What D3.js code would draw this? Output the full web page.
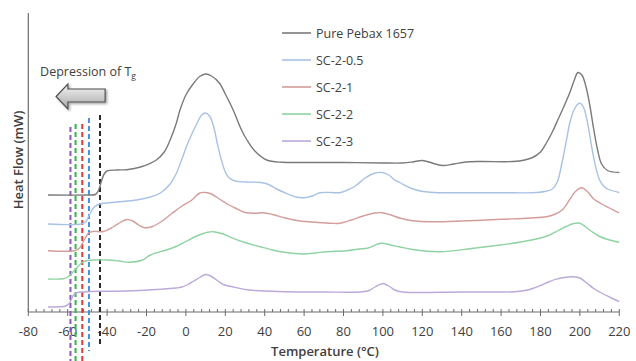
<!DOCTYPE html>
<html>
<head>
<meta charset="utf-8">
<script src="https://cdn.jsdelivr.net/npm/d3@7/dist/d3.min.js"></script>
<style>
  body { margin: 0; background: #fff; }
  svg { display: block; font-family: "Open Sans", sans-serif; }
</style>
</head>
<body>
<svg id="chart" width="636" height="361"></svg>
<script>
// ---- data (temperature °C, heat flow in arbitrary stacked units) ----
const seriesNames = ["Pure Pebax 1657", "SC-2-0.5", "SC-2-1", "SC-2-2", "SC-2-3"]
const lineColors = ["#7a7a7a", "#a9c2e4", "#d49d9b", "#8fd3a3", "#bba9d9"]
const dashColors = ["#2b2b2b", "#4f8fd8", "#e03a3a", "#33b452", "#8c55c4"]

const pebax = [[-70,117],[-50,117],[-46,117.5],[-44.5,121],[-43,130],[-41.5,138],[-40,141],[-35,142],[-30,142.3],
  [-23,145],[-15,152],[-11,160],[-8,172],[-5,188],[-3,202],[0,217],[4,229],[7,235.5],[10,238],[13,236],[17,229],
  [20,218],[24,202],[28,183],[31,172],[35,161],[41,152],[49,149.7],[60,149.5],[80,149.5],[100,149],[110,149],
  [115,150],[120,151.5],[125,149],[130,146.5],[136,148],[142,150],[150,150.5],[166,150.5],[172,152],[176,154.5],
  [180,160],[183,169],[186,180],[189,193],[192,206],[195,220],[197,231],[199,239.5],[201,237],[203,226],[205,207],
  [207,183],[209,162],[211,148],[214,141.5],[220,139.5]]
const sc05 = [[-70,88],[-53,88],[-51,90],[-49,97],[-47,104],[-45,107],[-42,108.7],[-35,110],[-25,112],[-18,115],
  [-13,119],[-8,128],[-5,138],[-2,153],[0,164],[3,178],[5.5,188],[8,197],[10,199],[12,196],[14,186],[16,168],
  [18,152],[20,140],[22,134],[25,131],[30,130],[38,129.5],[42,127.5],[46,123],[51,118.7],[56,115],[60,114.3],
  [64,116],[68,119.3],[74,119.5],[78,119.3],[82,122],[86,126],[91,134],[96,139],[99.5,139.5],[103,137],[106,132],
  [109,129],[114,124],[119,121],[126,119.5],[134,119.3],[160,119.3],[176,119.3],[182,120.5],[186,123],[188.5,130],
  [191,150],[193,170],[195,190],[197,202],[199,208],[200.3,208.7],[202,204],[204,188],[206,165],[208,145],
  [210,132],[212,126],[214,123],[220,119.5]]
const sc1 = [[-70,61.3],[-56,61.5],[-54,64],[-52.5,69],[-51,74],[-49.5,79],[-47,80.5],[-42,80.5],[-37,85],[-33,90],
  [-30,92.5],[-27,91],[-24,87],[-21,84.3],[-17,85.5],[-12,91],[-7,98.7],[-2,106],[3,112],[7,119],[10,119.5],
  [13,118],[17,113],[21,108],[25,104],[30,99.5],[35,98.7],[39,99.3],[44,97.5],[51,93.7],[58,91],[66,89.7],
  [74,88.7],[78,88.7],[84,92],[90,96],[96,99],[99.5,99.3],[104,97],[109,93.7],[115,91.3],[125,90.3],[140,91],
  [160,92.7],[175,94],[183,95.3],[187,97.5],[191,102],[195,113],[198,121],[201,124.3],[204,120],[207,113],
  [211,108],[215,104],[220,99]]
const sc2 = [[-70,33],[-62,33.3],[-60,35],[-58,38.5],[-55.5,44],[-53,49],[-50,51.5],[-46,52],[-40,52],[-34,51],
  [-28.5,49.7],[-22,52],[-18,57],[-10,62],[-5,65.5],[0,70.5],[5,75.5],[11,79.7],[14,80.3],[19,78],[24,73.7],
  [30,69.5],[37.6,65.3],[44,62],[50,59.7],[59.6,58],[66,59],[71.5,60.3],[81.6,61.3],[88,63],[92,63.7],[99,68.7],
  [104,67],[108.6,65],[115,62.5],[129,60.3],[145,63.5],[159.5,67],[170,70],[178,73],[184,76.5],[189,81.5],[193,85.5],
  [197,88.5],[200,88.7],[203,85],[206,80.5],[210,75.5],[215,72],[220,69.7]]
const sc3 = [[-70,5],[-61,6],[-59.5,8],[-58,13],[-57,17],[-55,19.5],[-52,20],[-44,20.7],[-30,21],[-15,22.5],
  [-5,24],[-2,25],[1,27.5],[4,31],[7,34.5],[10,37.5],[12.5,36],[15.6,32],[19,27.5],[23,25.5],[32,22],[50,20.3],
  [70,20],[88,20],[93,21.5],[96,25],[100,28.5],[103,26],[106,22],[110,20],[140,20],[167,20.3],[172,21.5],
  [176,23.5],[180,26.5],[184,30],[188,32.8],[192,34.5],[196.7,35.3],[200,34],[203.5,29],[207,23.5],[210,20],
  [215,15],[220,10.3]]
const allSeries = [pebax, sc05, sc1, sc2, sc3]

// Tg marker positions (°C) and the vertical span of each dashed line
const tgValues = [-43.6, -49.2, -52.6, -56, -58.6]
const tgTop = [197, 194, 188, 188, 185]
const tgBottom = [-35, -39, -52, -52, -52]

const xTicks = d3.range(-80, 221, 20)

// ---- layout ----
const svg = d3.select("#chart")
const x = d3.scaleLinear().domain([-80, 220]).range([28.3, 619.3])
const y = d3.scaleLinear().domain([0, 300]).range([312, 12])
const axisColor = "#6b6b6b"
const textColor = "#404040"

// y axis line (no ticks)
svg.append("line")
  .attr("x1", x(-80)).attr("x2", x(-80))
  .attr("y1", y(299)).attr("y2", y(0))
  .attr("stroke", axisColor).attr("stroke-width", 1.2)

// x axis: major ticks cross the line, minor ticks point up
const xAxisG = svg.append("g").attr("transform", `translate(0,${y(0)})`)
xAxisG.append("line")
  .attr("x1", x(-80)).attr("x2", x(220))
  .attr("stroke", axisColor).attr("stroke-width", 1.2)
xAxisG.selectAll("line.minor")
  .data(d3.range(-80, 221, 4).filter(d => (d + 80) % 20 !== 0))
  .join("line").attr("class", "minor")
  .attr("x1", d => x(d)).attr("x2", d => x(d))
  .attr("y1", 0).attr("y2", -3)
  .attr("stroke", axisColor)
xAxisG.selectAll("line.major")
  .data(xTicks)
  .join("line").attr("class", "major")
  .attr("x1", d => x(d)).attr("x2", d => x(d))
  .attr("y1", -3).attr("y2", 4)
  .attr("stroke", axisColor)
xAxisG.selectAll("text")
  .data(xTicks)
  .join("text")
  .attr("x", d => x(d))
  .attr("y", 24)
  .attr("text-anchor", "middle")
  .attr("font-size", 13)
  .attr("fill", textColor)
  .text(d => d)

// axis titles
svg.append("text")
  .attr("x", 325).attr("y", 356)
  .attr("text-anchor", "middle")
  .attr("font-size", 13).attr("font-weight", 600)
  .attr("fill", textColor)
  .text("Temperature (°C)")
svg.append("text")
  .attr("transform", `translate(23,${y(152)}) rotate(-90)`)
  .attr("text-anchor", "middle")
  .attr("font-size", 13).attr("font-weight", 600)
  .attr("fill", textColor)
  .text("Heat Flow (mW)")

// dashed Tg lines
svg.selectAll("line.tg")
  .data(tgValues)
  .join("line").attr("class", "tg")
  .attr("x1", d => x(d)).attr("x2", d => x(d))
  .attr("y1", (d, i) => y(tgTop[i])).attr("y2", (d, i) => y(tgBottom[i]))
  .attr("stroke", (d, i) => dashColors[i])
  .attr("stroke-width", 2)
  .attr("stroke-dasharray", "5,3")

// curves
const line = d3.line()
  .x(d => x(d[0]))
  .y(d => y(d[1]))
  .curve(d3.curveCatmullRom.alpha(0.5))

svg.selectAll("path.series")
  .data(allSeries)
  .join("path").attr("class", "series")
  .attr("d", line)
  .attr("fill", "none")
  .attr("stroke", (d, i) => lineColors[i])
  .attr("stroke-width", 1.4)

// legend
const legend = svg.append("g")
seriesNames.forEach((name, i) => {
  const ly = 33 + i * 27
  legend.append("line")
    .attr("x1", 282).attr("x2", 311)
    .attr("y1", ly).attr("y2", ly)
    .attr("stroke", lineColors[i]).attr("stroke-width", 1.6)
  legend.append("text")
    .attr("x", 316).attr("y", ly + 4.5)
    .attr("font-size", 12.5)
    .attr("fill", textColor)
    .text(name)
})

// "Depression of Tg" annotation with a block arrow
const defs = svg.append("defs")
const grad = defs.append("linearGradient").attr("id", "arrowFill")
  .attr("x1", 0).attr("y1", 0).attr("x2", 0).attr("y2", 1)
grad.append("stop").attr("offset", "0%").attr("stop-color", "#f4f4f4")
grad.append("stop").attr("offset", "100%").attr("stop-color", "#a8a8a8")
defs.append("filter").attr("id", "shadow")
  .append("feDropShadow")
  .attr("dx", 1.5).attr("dy", 1.5).attr("stdDeviation", 1)
  .attr("flood-color", "#000").attr("flood-opacity", 0.35)

const arrowT = [-65.9, -59.9, -41]   // tip, head base, tail
const arrowV = [228, 223, 210, 203]  // head top, body top, body bottom, head bottom
const arrowPts = [
  [arrowT[0], (arrowV[0] + arrowV[3]) / 2],
  [arrowT[1], arrowV[0]], [arrowT[1], arrowV[1]], [arrowT[2], arrowV[1]],
  [arrowT[2], arrowV[2]], [arrowT[1], arrowV[2]], [arrowT[1], arrowV[3]]
]
svg.append("path")
  .attr("d", d3.line().x(d => x(d[0])).y(d => y(d[1]))(arrowPts) + "Z")
  .attr("fill", "url(#arrowFill)")
  .attr("stroke", "#505050").attr("stroke-width", 1.2)
  .attr("filter", "url(#shadow)")

const note = svg.append("text")
  .attr("x", x(-74)).attr("y", y(236))
  .attr("font-size", 12.5)
  .attr("fill", textColor)
note.append("tspan").text("Depression of T")
note.append("tspan").attr("font-size", 8.5).attr("dy", 3).text("g")
</script>
</body>
</html>
